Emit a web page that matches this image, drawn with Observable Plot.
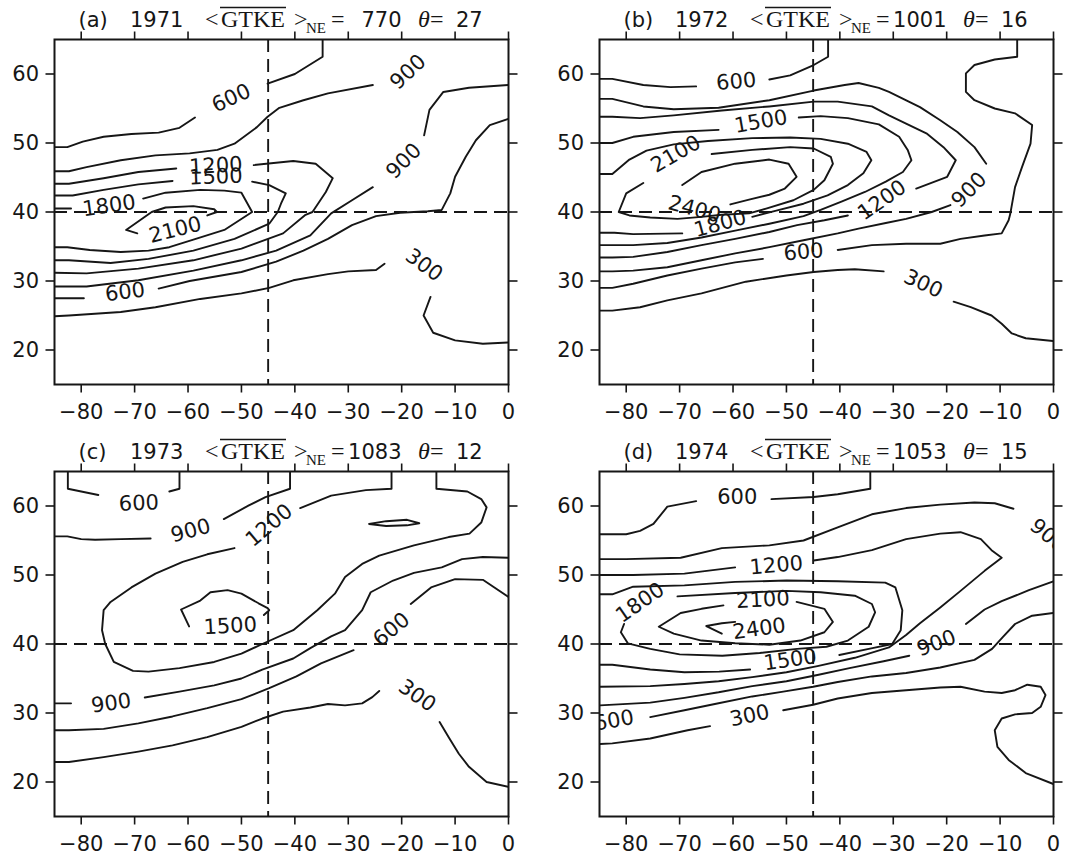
<!DOCTYPE html>
<html>
<head>
<meta charset="utf-8">
<script src="https://cdn.jsdelivr.net/npm/d3@7"></script>
<script src="https://cdn.jsdelivr.net/npm/@observablehq/plot@0.6"></script>
<style>
  body { margin: 0; background: #fff; }
  #chart { position: relative; width: 1065px; height: 855px; }
  .panel { position: absolute; }
  .panel svg { display: block; overflow: visible; }
</style>
</head>
<body>
<div id="chart"></div>
<script>
// ---- axis ticks and reference lines ----
const lonTicks = [-80, -70, -60, -50, -40, -30, -20, -10, 0];
const latTicks = [20, 30, 40, 50, 60];
const refLon = -45;
const refLat = 40;

// ---- panel headers ----
const tags = ["(a)", "(b)", "(c)", "(d)"];
const years = [1971, 1972, 1973, 1974];
const gtkeNE = [770, 1001, 1083, 1053];
const theta = [27, 16, 12, 15];

// ---- contour pieces: [level, [[lon, lat], ...]] (pieces break where a label sits) ----
const linesA = [
  [600, [[-85,49.4],[-82.6,49.4],[-79.7,50.2],[-75.8,50.9],[-70.6,51.3],[-65.5,51.5],[-61.6,52.2],[-58.7,53.7]]],
  [600, [[-45.1,58.6],[-40.0,60.0],[-34.8,62.5],[-34.8,65]]],
  [900, [[-85,45.9],[-82.3,45.9],[-79,46.5],[-72.6,47.5],[-66.1,48.2],[-59.7,48.5],[-54.5,49.0],[-51.3,49.9],[-47.1,52.3],[-45.1,53.8],[-42.9,55.1],[-38.4,56.2],[-33.8,57.2],[-25.4,58.4]]],
  [1200, [[-85,44.1],[-82.3,44.1],[-75.8,44.9],[-69.3,45.8],[-62.2,46.3]]],
  [1200, [[-47.7,46.8],[-40.3,47.4],[-36.1,47.0],[-32.9,44.9],[-34.2,42.9],[-36.7,40.0],[-38.0,39.6],[-42.2,36.9],[-50.0,34.7],[-59.0,33.0],[-69.3,31.8],[-79.0,31.1],[-85,31.2]]],
  [1500, [[-85,42.4],[-81.6,42.4],[-75.8,43.2],[-69.3,44.0],[-62.9,44.5]]],
  [1500, [[-48.0,44.4],[-44.8,43.9],[-41.7,42.7],[-42.6,41.2],[-43.2,40.0],[-44.8,38.3],[-51.3,36.1],[-59,34.4],[-67.4,33.2],[-74.5,32.6],[-82.3,33.0],[-85,33.0]]],
  [1800, [[-85,40.5],[-81.9,40.5]]],
  [1800, [[-68.4,41.95],[-64.2,42.8],[-57.7,43.2],[-53.2,43.1],[-50.0,42.8],[-48.0,40.0],[-53.2,37.4],[-59,36.0],[-63.5,34.9],[-67.4,34.4],[-72.6,34.2],[-78.4,34.5],[-82.6,34.9],[-85,34.9]]],
  [2100, [[-56.4,39.5],[-54.6,40.0],[-55.1,40.4],[-59.0,40.85],[-64.2,40.65],[-66.8,40.0],[-71.6,37.4],[-69.5,36.9]]],
  [900, [[-85,29.2],[-79,29.2],[-69.3,30.1],[-59,31.5],[-50,33.0],[-43.5,34.4],[-37.1,36.6],[-33.2,39.8],[-29.3,41.7],[-25.4,43.6]]],
  [900, [[-15.8,51.1],[-14.8,54.8],[-12.2,57.4],[-7.4,58.0],[0,58.4]]],
  [600, [[0,53.5],[-3.5,52.6],[-6.1,50.4],[-8.0,48.0],[-10.0,45.1],[-10.9,42.7],[-12.5,40.3],[-15.1,40.1],[-20.3,39.9],[-24.8,39.4],[-29.3,38.1],[-33.8,36.1],[-38.4,34.4],[-43.5,32.8],[-50.0,31.3],[-59.7,30.0],[-65.5,28.9]]],
  [600, [[-79.5,27.5],[-85,27.5]]],
  [300, [[-85,24.9],[-82.3,25.0],[-72.6,25.5],[-66.1,26.2],[-57.7,27.4],[-50.0,28.2],[-44.8,29.0],[-40.3,30.1],[-33.8,31.0],[-30.0,31.4],[-24.8,31.6],[-23.2,32.5]]],
  [300, [[-14.6,27.7],[-15.9,25.0],[-14.1,22.5],[-10.0,21.4],[-4.8,20.9],[0,21.1]]]
];
const labelsA = [
  [-51.9, 56.5, "600", -25], [-18.8, 60.3, "900", -43], [-19.6, 47.4, "900", -45],
  [-54.8, 46.7, "1200", -3], [-54.8, 45.1, "1500", -2], [-74.8, 40.9, "1800", -8],
  [-62.4, 37.4, "2100", -14], [-71.8, 28.4, "600", -7], [-15.8, 32.3, "300", 36]
];

const linesB = [
  [600, [[-84.9,59.3],[-82.6,59.3],[-76.8,58.4],[-71.7,58.1],[-66.9,58.2]]],
  [600, [[-53.2,59.2],[-49.3,59.8],[-44.9,61.3],[-42.2,62.5],[-42.2,65]]],
  [600, [[-6.8,65],[-6.8,62.5],[-11.0,62.1],[-14.8,61.3],[-16.4,60.1],[-16.4,57.4],[-14.8,56.2],[-11.0,55.0],[-7.2,54.3],[-4.0,52.6],[-4.3,49.9],[-5.9,46.5],[-7.2,43.6],[-8.1,39.7],[-8.4,38.8],[-9.7,36.9],[-12.9,36.6],[-17.4,36.1],[-21.2,35.4],[-27.6,35.4],[-34.0,35.2],[-40.4,34.5]]],
  [600, [[-54.4,33.2],[-59.6,32.7],[-65.9,31.8],[-72.3,30.8],[-78.7,29.6],[-82.6,29.0],[-84.9,29.0]]],
  [300, [[-84.9,25.7],[-82.6,25.7],[-77.4,26.2],[-72.3,27.2],[-65.9,28.2],[-57.6,29.9],[-50,30.8],[-44.9,31.3],[-40.4,31.6],[-37.2,31.7],[-31.8,31.4]]],
  [300, [[-18.7,27.0],[-15.5,26.2],[-11.6,25.0],[-9.7,23.8],[-7.8,22.4],[-5.2,21.7],[0,21.3]]],
  [900, [[-84.9,56.4],[-82.6,56.4],[-76.8,55.3],[-71.1,54.9],[-62.7,55.1],[-53.2,56.2],[-44.9,57.6],[-39.1,58.4],[-36.5,58.7],[-32.7,58.0],[-30.8,57.4],[-28.9,56.7],[-25.0,55.2],[-21.2,53.3],[-18.0,51.6],[-14.8,49.4],[-12.6,47.0]]],
  [900, [[-19.3,41.0],[-22.8,40],[-27.6,39.0],[-31.4,38.4],[-36.5,37.6],[-40.4,36.9],[-46.8,35.9],[-53.2,34.9],[-59.6,34.0],[-65.9,33.0],[-72.3,32.0],[-78.7,31.5],[-82.6,31.4],[-84.9,31.4]]],
  [1200, [[-84.9,53.8],[-82.6,53.8],[-77.4,53.6],[-71.1,54.0],[-62.1,54.7],[-53.2,55.3],[-44.9,56.0],[-40.4,56.0],[-34.0,55.3],[-30.8,54.0],[-27.6,52.8],[-23.8,51.4],[-20.6,49.4],[-18.3,47.5],[-19.9,45.1],[-25.7,43.4]]],
  [1200, [[-38.5,39.5],[-42.9,38.8],[-48.0,38.1],[-53.2,37.1],[-59.6,36.1],[-65.9,35.2],[-72.3,34.2],[-78.7,33.5],[-82.6,33.4],[-84.9,33.4]]],
  [1500, [[-84.9,50.0],[-82.6,50.0],[-78.7,50.9],[-71.1,51.6],[-62.7,51.9]]],
  [1500, [[-47.7,53.7],[-43.6,53.9],[-38.5,53.6],[-32.7,52.7],[-28.9,50.9],[-27.3,49.0],[-26.6,47.5],[-28.2,45.8],[-31.4,44.4],[-35.3,42.9],[-39.7,41.5],[-43.6,40.3],[-46.8,39.4],[-53.2,38.3],[-59.6,37.3],[-65.9,36.3],[-72.3,35.5],[-78.7,35.2],[-82.6,35.2],[-84.9,35.2]]],
  [1800, [[-84.9,45.5],[-82.6,45.5],[-79.4,47.6],[-76.2,48.9],[-71.1,49.8],[-64.7,50.3],[-56.4,50.7],[-49.3,50.8],[-43.6,50.6],[-38.5,49.9],[-35.0,48.7],[-34.1,47.5],[-35.6,45.6],[-38.5,43.9],[-42.3,42.4],[-46.8,41.2],[-51.9,40.2],[-56.4,39.3]]],
  [1800, [[-69.5,36.9],[-78.7,36.8],[-82.2,37.0],[-84.9,37.0]]],
  [2100, [[-64.0,48.4],[-56.4,49.0],[-49.3,49.4],[-44.9,49.2],[-41.7,48.0],[-41.3,47.0],[-42.9,44.6],[-44.9,43.2],[-48.7,41.7],[-53.8,40.5],[-57.0,39.8],[-62.1,39.6],[-65.9,39.3],[-70.4,39.0],[-75.5,39.2],[-79.4,39.5],[-81.4,40],[-80,42.7],[-76.8,44.2]]],
  [2400, [[-60.5,41.1],[-57.0,41.8],[-53.2,42.5],[-50.3,43.4],[-48.1,45.1],[-49.6,47.0],[-53.2,47.6],[-59.6,47.0],[-65.9,45.8],[-69.5,43.9]]]
];
const labelsB = [
  [-59.4, 58.9, "600", -5], [-54.8, 53.1, "1500", -10], [-70.7, 48.4, "2100", -30],
  [-67.2, 40.4, "2400", 15], [-62.4, 38.3, "1800", -15], [-32.1, 41.7, "1200", -35],
  [-15.8, 43.2, "900", -45], [-46.8, 34.2, "600", -5], [-24.4, 29.6, "300", 25]
];

const linesC = [
  [600, [[-82.5,65],[-82.5,62.5],[-76.8,61.6]]],
  [600, [[-63.5,62.1],[-61.6,62.5],[-61.6,65]]],
  [900, [[-40.9,65],[-40.9,62.5],[-45.5,61.3],[-48.7,60.05],[-53.3,58.1]]],
  [900, [[-67.0,55.3],[-72.6,55.2],[-77.4,55.1],[-80,55.2],[-82.6,55.6],[-85,55.6]]],
  [1200, [[-21.9,65],[-21.9,62.5],[-26.7,62.3],[-33.2,61.5],[-39.0,59.7]]],
  [1200, [[-51.3,53.9],[-56.4,53.0],[-61.0,51.9],[-66.1,50.2],[-70.6,48.2],[-74.5,46.1],[-75.8,44.9],[-76.1,42.0],[-75.5,40.0],[-73.9,37.4],[-70.3,36.1],[-67.4,36.0],[-61.6,36.5],[-55.1,37.4],[-50,38.6],[-46.1,40],[-40.3,42.0],[-35.8,44.9],[-32.5,47.3],[-30.6,49.7],[-27.4,51.6],[-24.2,52.8],[-17.7,54.3],[-11.2,55.5],[-7.3,56.0],[-5.1,57.6],[-4.1,59.8],[-5.1,61.0],[-7.7,62.1],[-13.5,62.5],[-13.5,65]]],
  [1200, [[-26.1,57.4],[-22.9,57.8],[-19.0,58.0],[-16.7,57.5],[-19.0,57.2],[-22.9,57.1],[-26.1,57.4]]],
  [1500, [[-59.8,42.55],[-61.3,45.0],[-57.7,46.3],[-55.8,47.5],[-52.6,47.8],[-50,47.3],[-46.8,45.9],[-45.1,45.2],[-44.8,44.9],[-45.8,44.2]]],
  [900, [[-85,31.4],[-81.9,31.4]]],
  [900, [[-68.1,32.25],[-61.6,33.1],[-55.1,34.0],[-50,35.0],[-46.1,36.3],[-40.3,37.9],[-37.1,39.4],[-33.2,41.1],[-30.6,42.0],[-27.4,44.9],[-25.8,47.5],[-21.6,49.2],[-17.7,50.3],[-12.5,51.1],[-8.7,52.3],[-4.8,52.6],[0,52.5]]],
  [600, [[-85,27.5],[-82.3,27.5],[-75.8,27.7],[-69.3,28.5],[-62.9,29.5],[-56.4,30.7],[-50,32.0],[-44.8,33.6],[-39.7,35.3],[-35.1,37.2],[-29.0,39.1]]],
  [600, [[-18.3,45.8],[-14.5,48.2],[-10.0,49.4],[-4.8,49.3],[0,46.8]]],
  [300, [[-85,22.9],[-82.3,22.9],[-75.8,23.6],[-69.3,24.4],[-62.9,25.3],[-56.4,26.5],[-50,28.0],[-46.1,29.2],[-42.2,30.2],[-37.1,30.8],[-33.8,31.3],[-30.6,31.1],[-27.4,31.4],[-25.5,32.3],[-24.2,33.2]]],
  [300, [[-12.9,28.7],[-11.2,26.5],[-9.3,24.1],[-7.4,22.2],[-4.1,20.0],[0,19.3]]]
];
const labelsC = [
  [-69.2, 60.4, "600", -2], [-59.5, 56.4, "900", -15], [-44.8, 57.2, "1200", -40],
  [-52.1, 42.6, "1500", -3], [-21.9, 42.1, "600", -40], [-74.4, 31.4, "900", -8],
  [-17.1, 32.5, "300", 35]
];

const linesD = [
  [600, [[-34.3,65],[-34.3,62.5],[-40.4,61.7],[-44.9,61.3],[-52.8,61.0]]],
  [600, [[-66.9,60.7],[-72.3,59.9],[-74.9,57.4],[-77.4,56.4],[-80,55.9],[-84.9,55.9]]],
  [900, [[-84.9,52.3],[-80,52.3],[-69.8,52.5],[-62.1,53.9],[-53.2,54.3],[-46.8,55.0],[-40.4,56.9],[-34,58.8],[-27.6,59.7],[-21.2,60.2],[-14.8,60.5],[-11.0,60.4],[-7.5,59.6]]],
  [1200, [[-84.9,50.0],[-78.7,50.0],[-69.1,50.2],[-59.6,51.1]]],
  [1200, [[-44.9,52.1],[-40.4,52.6],[-34.0,53.6],[-27.6,55.2],[-21.2,56.0],[-17.4,56.2],[-13.6,55.2],[-11.6,53.6],[-9.7,52.5],[-12.9,50.6],[-17.4,47.7],[-21.2,45.3],[-25.0,43.0],[-27.6,41.3],[-30.8,39.5],[-37.2,38.0],[-44.2,36.8],[-50,35.9],[-56.4,35.2],[-62.7,34.6],[-69.1,34.2],[-75.5,33.9],[-84.9,33.8]]],
  [1500, [[-84.9,47.2],[-82.6,47.2],[-78.7,48.3],[-69.1,48.5],[-59.6,49.0],[-50,49.2],[-40.4,49.1],[-31.5,48.9],[-29.6,48.2],[-28.3,44.9],[-28.6,42.0],[-30.2,40.0],[-33.9,39.4],[-40.1,38.4]]],
  [1500, [[-56.8,36.3],[-62.6,36.0],[-69.1,35.9],[-75.5,36.3],[-82.6,37.0],[-84.9,37.0]]],
  [1800, [[-70.4,46.9],[-59.6,47.4],[-50,47.7],[-43.6,47.5],[-37.2,47.0],[-34,45.8],[-33.4,44.6],[-34.6,42.5],[-38.5,40.5],[-42.5,39.6],[-48,39.3],[-55,38.7],[-62,38.3],[-70,38.5],[-75.5,39.3],[-79.7,40.1],[-81.0,41.7],[-80.4,42.9]]],
  [2100, [[-48.1,46.1],[-42.9,45.1],[-41.3,43.2],[-42.9,41.7],[-47.4,40.5],[-53.2,39.9],[-59.6,40.1],[-65.9,40.5],[-71.1,41.5],[-73.9,42.5],[-69.8,44.5],[-65.9,45.1],[-61.8,45.6]]],
  [2400, [[-59.6,43.2],[-62.1,43.0],[-65.0,42.6],[-62.1,41.5]]],
  [900, [[0,49.1],[-4.6,47.8],[-9.7,46.2],[-12.9,45.0],[-16.4,42.9]]],
  [900, [[-27.0,38.3],[-31.8,37.5],[-38.2,36.5],[-44.2,35.5],[-50,34.6],[-56.4,33.9],[-62.7,33.0],[-69.1,32.2],[-75.5,31.5],[-84.9,31.1]]],
  [600, [[0,44.5],[-4.0,44.1],[-7.2,42.9],[-9.5,41.0],[-11.5,39.3],[-14.8,37.7],[-21.2,36.6],[-27.6,35.8],[-34,35.3],[-40.4,34.5],[-45,33.8],[-50.6,33.1],[-56.4,32.4],[-63.4,31.3],[-69.1,30.4],[-75.5,29.4]]],
  [300, [[-84.9,25.5],[-82.6,25.6],[-75.5,26.3],[-68.5,27.5],[-64.3,28.1]]],
  [300, [[-50.6,30.4],[-45,31.2],[-40.4,32.1],[-34,32.9],[-27.6,33.3],[-21.2,33.7],[-17.4,33.8],[-12.9,33.1],[-9.7,32.9],[-7.2,33.3],[-4.9,34.1],[-2.4,33.8],[-1.5,32.6],[-2.4,30.9],[-4.0,30.0],[-7.2,29.8],[-9.7,29.2],[-11.0,27.5],[-10.5,25.1],[-8.4,23.2],[-5.2,21.3],[0,19.7]]]
];
const labelsD = [
  [-59.2, 61.25, "600", 0], [-1.0, 55.7, "900", 40], [-51.9, 51.4, "1200", -5],
  [-77.4, 46.0, "1800", -35], [-54.4, 46.4, "2100", -3], [-55.1, 42.2, "2400", -8],
  [-49.3, 37.7, "1500", -8], [-21.9, 40.1, "900", -20], [-82.3, 28.9, "600", -10],
  [-56.9, 29.6, "300", -12]
];

// ---- layout ----
const ink = "#161616";
const ML = 54, MR = 12, MT = 8, MB = 39;
const frameW = 454, frameH = 345;
const titleH = 31;
const panelPos = [[0, 0], [544.5, 0], [0, 432], [544.5, 432]];
const fmtLon = d => d < 0 ? "\u2212" + Math.abs(d) : String(d);

function drawTitle(i) {
  const W = ML + frameW + MR;
  const svg = d3.create("svg").attr("width", W).attr("height", titleH);
  const base = 27.3;
  const add = (txt, x, o = {}) => svg.append("text")
    .attr("x", ML + x).attr("y", base + (o.dy || 0))
    .attr("font-family", o.font || "DejaVu Sans")
    .attr("font-size", o.size || 21)
    .attr("font-style", o.style || "normal")
    .attr("text-anchor", o.anchor || "start")
    .attr("fill", ink).text(txt);
  const serif = "Liberation Serif";
  add(tags[i], 24.5);
  add(String(years[i]), 76);
  add("<", 151, {font: serif, size: 24});
  add("GTKE", 167, {font: serif, size: 24});
  svg.append("line").attr("x1", ML + 166).attr("x2", ML + 232)
    .attr("y1", 7.5).attr("y2", 7.5).attr("stroke", ink).attr("stroke-width", 1.4);
  add(">", 240, {font: serif, size: 24});
  add("NE", 252, {font: serif, size: 15, dy: 5.5});
  add("=", 277, {font: serif, size: 24});
  add(String(gtkeNE[i]), 347.5, {anchor: "end"});
  add("\u03b8", 364, {font: serif, size: 24, style: "italic"});
  add("=", 376, {font: serif, size: 24});
  add(String(theta[i]), 402);
  return svg.node();
}

function drawPanel(lines, labels) {
  const rows = [];
  lines.forEach(([level, pts], k) => pts.forEach(([lon, lat]) => rows.push({lon, lat, level, seg: k})));
  const labs = labels.map(([lon, lat, text, rot]) => ({lon, lat, text, rot}));
  const axisOpts = {stroke: ink, strokeWidth: 1.6, label: null};
  return Plot.plot({
    width: ML + frameW + MR,
    height: MT + frameH + MB,
    marginLeft: ML, marginRight: MR, marginTop: MT, marginBottom: MB,
    x: {domain: [-85, 0]},
    y: {domain: [15, 65]},
    style: {fontFamily: "DejaVu Sans", fontSize: "21px", color: ink, background: "transparent", overflow: "visible"},
    marks: [
      Plot.ruleX([refLon], {stroke: ink, strokeWidth: 1.9, strokeDasharray: "13,7"}),
      Plot.ruleY([refLat], {stroke: ink, strokeWidth: 1.9, strokeDasharray: "13,7"}),
      Plot.line(rows, {x: "lon", y: "lat", z: "seg", stroke: ink, strokeWidth: 1.9, clip: true}),
      Plot.text(labs, {x: "lon", y: "lat", text: "text", rotate: "rot", fontSize: 21, fill: ink, clip: true}),
      Plot.frame({stroke: ink, strokeWidth: 2}),
      Plot.axisX({...axisOpts, ticks: lonTicks, anchor: "bottom", tickSize: 8.5, tickPadding: 10.8, tickFormat: fmtLon}),
      Plot.axisX({...axisOpts, ticks: lonTicks, anchor: "top", tickSize: 8.5, tickFormat: () => ""}),
      Plot.axisY({...axisOpts, ticks: latTicks, anchor: "left", tickSize: 8.5, tickPadding: 7}),
      Plot.axisY({...axisOpts, ticks: latTicks, anchor: "right", tickSize: 8.5, tickFormat: () => ""})
    ]
  });
}

const chart = document.getElementById("chart");
const allLines = [linesA, linesB, linesC, linesD];
const allLabels = [labelsA, labelsB, labelsC, labelsD];
allLines.forEach((lines, i) => {
  const div = document.createElement("div");
  div.className = "panel";
  div.style.left = panelPos[i][0] + "px";
  div.style.top = panelPos[i][1] + "px";
  div.appendChild(drawTitle(i));
  div.appendChild(drawPanel(lines, allLabels[i]));
  chart.appendChild(div);
});
</script>
</body>
</html>
